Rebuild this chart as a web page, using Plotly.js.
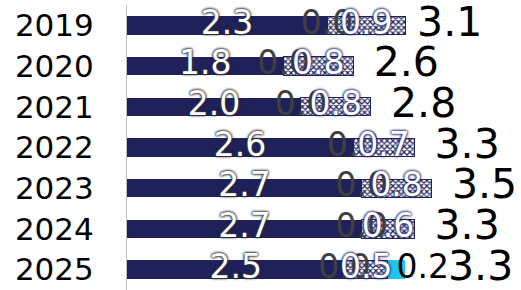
<!DOCTYPE html>
<html>
<head>
<meta charset="utf-8">
<script src="https://cdn.plot.ly/plotly-3.0.1.min.js"></script>
<style>
html,body{margin:0;padding:0;background:#fff;}
#chart{width:521px;height:290px;}
</style>
</head>
<body>
<div id="chart"></div>
<script>
var years = ["2019","2020","2021","2022","2023","2024","2025"];
var mainValues = [2.3, 1.8, 2.0, 2.6, 2.7, 2.7, 2.5];
var zeroValues = [0.0, 0.0, 0.0, 0.0, 0.0, 0.0, 0.0];
var checkValues = [0.9, 0.8, 0.8, 0.7, 0.8, 0.6, 0.5];
var cyanValues = [null, null, null, null, null, null, 0.2];
var totals = [3.1, 2.6, 2.8, 3.3, 3.5, 3.3, 3.3];

var NAVY = "#20215a";
var CYAN = "#22c4f2";
var FONT = "DejaVu Sans, Verdana, sans-serif";

function fmt(v){ return v.toFixed(1); }

var traces = [];
traces.push({
  type: "bar", orientation: "h", y: years, x: mainValues,
  marker: {color: NAVY, line: {width: 0}},
  hoverinfo: "none", textposition: "none"
});
traces.push({
  type: "bar", orientation: "h", y: years, x: zeroValues,
  marker: {color: NAVY, line: {width: 0}},
  hoverinfo: "none", textposition: "none"
});
traces.push({
  type: "bar", orientation: "h", y: years, x: checkValues,
  marker: {color: "#ffffff", line: {color: NAVY, width: 1},
    pattern: {shape: "x", fgcolor: NAVY, bgcolor: "#ffffff", size: 4, solidity: 0.5}},
  hoverinfo: "none", textposition: "none"
});
traces.push({
  type: "bar", orientation: "h", y: years, x: cyanValues,
  marker: {color: CYAN, line: {width: 0}},
  hoverinfo: "none", textposition: "none"
});

// label traces (positions derived from data)
var mainMid = mainValues.map(function(v){ return v/2; });
var zeroPos = mainValues.map(function(v,i){ return v + zeroValues[i]/2; });
var checkMid = mainValues.map(function(v,i){ return v + zeroValues[i] + checkValues[i]/2; });
var cyanMid = mainValues.map(function(v,i){ return cyanValues[i]==null ? null : v + zeroValues[i] + checkValues[i] + cyanValues[i]/2; });
var cyanYears = years.filter(function(y,i){ return cyanValues[i]!=null; });
var cyanX = cyanMid.filter(function(v){ return v!=null; });
var cyanText = cyanValues.filter(function(v){ return v!=null; }).map(fmt);

traces.push({
  type: "scatter", mode: "text", y: years, x: mainMid, text: mainValues.map(fmt),
  textposition: "middle center", hoverinfo: "none", cliponaxis: false,
  textfont: {family: FONT, size: 33, color: "#ffffff",
    shadow: "0px 0px 3px #333333, 0px 0px 3px #333333, 0px 0px 2px #333333"}
});
traces.push({
  type: "scatter", mode: "text", y: years, x: zeroPos, text: zeroValues.map(fmt),
  textposition: "middle center", hoverinfo: "none", cliponaxis: false,
  textfont: {family: FONT, size: 33, color: "#404040"}
});
traces.push({
  type: "scatter", mode: "text", y: years, x: checkMid, text: checkValues.map(fmt),
  textposition: "middle center", hoverinfo: "none", cliponaxis: false,
  textfont: {family: FONT, size: 33, color: "#ffffff",
    shadow: "0px 0px 3px #2a2b70, 0px 0px 3px #2a2b70, 0px 0px 2px #2a2b70"}
});
traces.push({
  type: "scatter", mode: "text", y: cyanYears, x: cyanX, text: cyanText,
  textposition: "middle right", hoverinfo: "none", cliponaxis: false,
  textfont: {family: FONT, size: 33, color: "#000000"}
});
traces.push({
  type: "scatter", mode: "text", y: years, x: totals,
  text: totals.map(function(v, i){ return (cyanValues[i]!=null ? "\u2002\u2004" : "\u2002") + fmt(v); }),
  textposition: "middle right", hoverinfo: "none", cliponaxis: false,
  textfont: {family: FONT, size: 41, color: "#000000"}
});

var layout = {
  width: 521, height: 290,
  margin: {l: 127, r: 0, t: 5, b: 0, pad: 0},
  paper_bgcolor: "#ffffff", plot_bgcolor: "#ffffff",
  barmode: "stack", bargap: 0.55,
  showlegend: false,
  xaxis: {range: [0, 4.53], visible: false, fixedrange: true},
  yaxis: {type: "category", autorange: "reversed", showline: true, linecolor: "#bfbfbf", linewidth: 1,
    ticks: "", showgrid: false, zeroline: false, ticklabelstandoff: 26,
    tickfont: {family: FONT, size: 31, color: "#000000"}},
  font: {family: FONT}
};

Plotly.newPlot("chart", traces, layout, {displayModeBar: false, staticPlot: true});
</script>
</body>
</html>
